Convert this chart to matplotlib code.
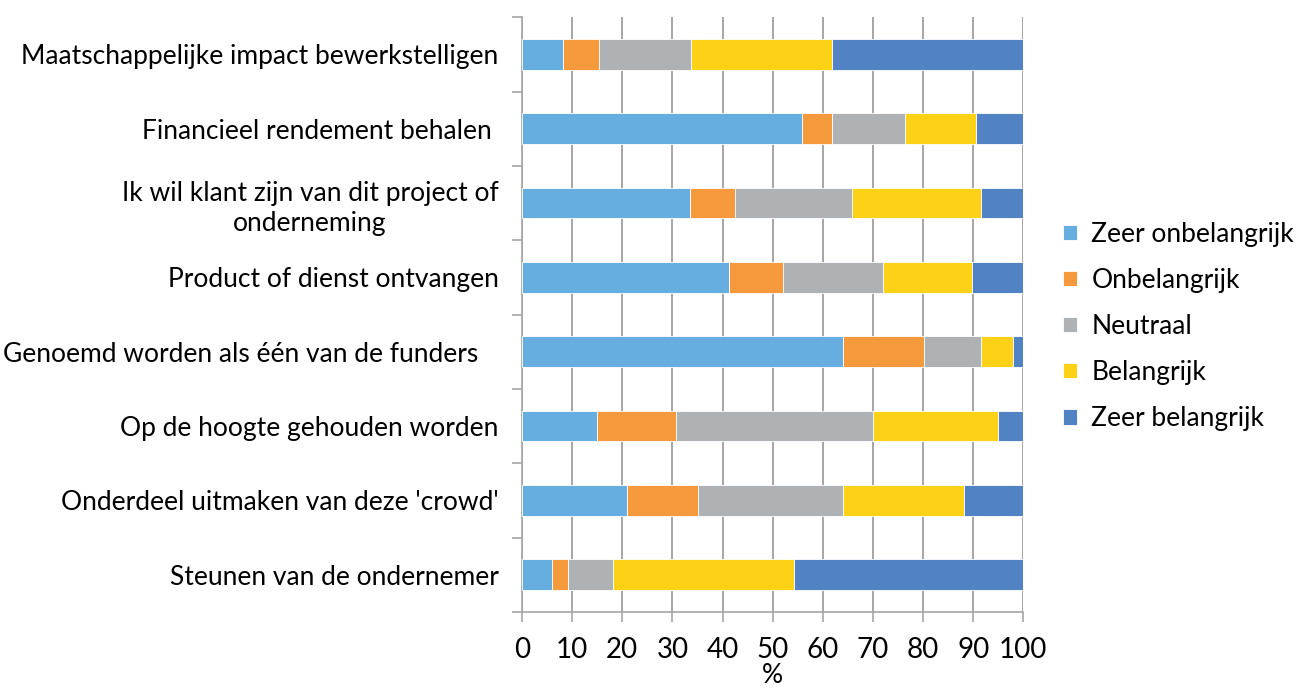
import numpy as np
import matplotlib.pyplot as plt

plt.rcParams['font.family'] = ['Lato', 'DejaVu Sans']

categories = [
    "Maatschappelijke impact bewerkstelligen",
    "Financieel rendement behalen ",
    "Ik wil klant zijn van dit project of\nonderneming",
    "Product of dienst ontvangen",
    "Genoemd worden als één van de funders   ",
    "Op de hoogte gehouden worden",
    "Onderdeel uitmaken van deze 'crowd'",
    "Steunen van de ondernemer",
]
series_names = ["Zeer onbelangrijk", "Onbelangrijk", "Neutraal", "Belangrijk", "Zeer belangrijk"]

zeer_onbelangrijk = [8.2, 55.8, 33.5, 41.3, 64.0, 15.0, 21.0, 5.9]
onbelangrijk = [7.2, 6.1, 9.0, 10.7, 16.2, 15.8, 14.1, 3.2]
neutraal = [18.4, 14.4, 23.3, 20.0, 11.4, 39.2, 28.9, 9.0]
belangrijk = [28.1, 14.3, 25.8, 17.8, 6.4, 24.9, 24.1, 36.1]
zeer_belangrijk = [38.1, 9.4, 8.4, 10.2, 2.0, 5.1, 11.9, 45.8]

colors = ["#65AEDF", "#F59A3C", "#AFB2B5", "#FCD116", "#5183C4"]

fig = plt.figure(figsize=(12.97, 6.89), dpi=100)
ax = fig.add_axes([0.4025, 0.112, 0.3865, 0.863])

y = np.arange(len(categories))[::-1]
left = np.zeros(len(categories))
for name, vals, c in zip(series_names,
                         [zeer_onbelangrijk, onbelangrijk, neutraal, belangrijk, zeer_belangrijk],
                         colors):
    ax.barh(y, vals, left=left, height=0.41, color=c, label=name,
            edgecolor='white', linewidth=0.6, zorder=3)
    left += np.array(vals)

ax.set_xlim(0, 100)
ax.set_ylim(-0.5, len(categories) - 0.5)
ax.set_xticks(np.arange(0, 101, 10))
ax.xaxis.grid(True, color='#A6A6A6', linewidth=1.4, zorder=0)

# category labels centred on bars, ticks on category boundaries
ax.set_yticks(y)
ax.set_yticklabels(categories, fontsize=19, ha='right', multialignment='center',
                   linespacing=1.25)
ax.tick_params(axis='y', length=0, pad=17)
ax.set_yticks(np.arange(-0.5, len(categories)), minor=True)
ax.tick_params(axis='y', which='minor', length=7, color='#A6A6A6', width=1.2)
ax.tick_params(axis='x', length=7, color='#A6A6A6', width=1.2, labelsize=20, pad=11)

for s in ['top', 'right']:
    ax.spines[s].set_visible(False)
for s in ['left', 'bottom']:
    ax.spines[s].set_color('#A6A6A6')
    ax.spines[s].set_linewidth(1.2)

ax.set_xlabel('%', fontsize=19, labelpad=0)

ax.legend(loc='center left', bbox_to_anchor=(1.08, 0.48), frameon=False,
          fontsize=19, handlelength=0.53, handleheight=0.53, handletextpad=0.53,
          labelspacing=0.8, borderaxespad=0, borderpad=0)

fig.savefig('out.png', dpi=100)
